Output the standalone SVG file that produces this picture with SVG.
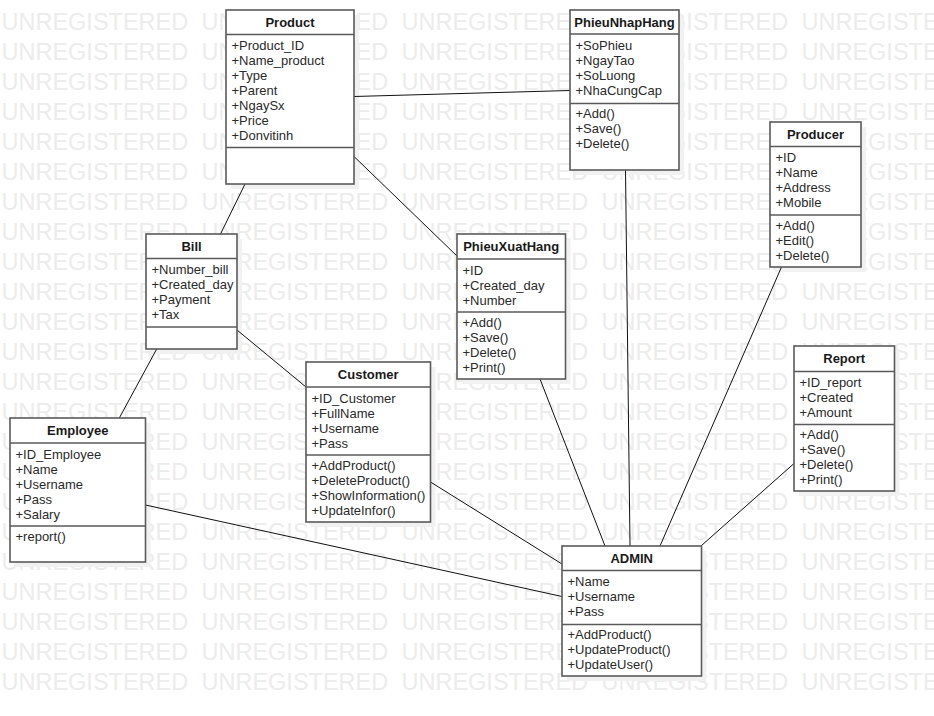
<svg xmlns="http://www.w3.org/2000/svg" xmlns:xlink="http://www.w3.org/1999/xlink" width="934" height="716" viewBox="0 0 934 716">
<style>
.wm{font-family:"Liberation Sans",Arial,sans-serif;font-size:23.5px;fill:#ececec}
.sh{fill:#f1f1f1}
.box{fill:#fff;stroke:#5a5a5a;stroke-width:1.6}
.div{stroke:#5a5a5a;stroke-width:1.6}
.hd{font-family:"Liberation Sans",Arial,sans-serif;font-size:13px;font-weight:bold;fill:#1a1a1a;text-anchor:middle}
.tx{font-family:"Liberation Sans",Arial,sans-serif;font-size:13px;fill:#2a2a2a}
.cn line{stroke:#111;stroke-width:1}
</style>
<defs>
<text id="wmrow" class="wm"><tspan x="1.5">UNREGISTERED</tspan><tspan x="201.5">UNREGISTERED</tspan><tspan x="401.5">UNREGISTERED</tspan><tspan x="601.5">UNREGISTERED</tspan><tspan x="801.5">UNREGISTERED</tspan></text>
</defs>
<rect width="934" height="716" fill="#fff"/>
<g id="watermark">
<use xlink:href="#wmrow" y="29.5"/><use xlink:href="#wmrow" y="59.5"/><use xlink:href="#wmrow" y="89.5"/><use xlink:href="#wmrow" y="119.5"/><use xlink:href="#wmrow" y="149.5"/><use xlink:href="#wmrow" y="179.5"/><use xlink:href="#wmrow" y="209.5"/><use xlink:href="#wmrow" y="239.5"/><use xlink:href="#wmrow" y="269.5"/><use xlink:href="#wmrow" y="299.5"/><use xlink:href="#wmrow" y="329.5"/><use xlink:href="#wmrow" y="359.5"/><use xlink:href="#wmrow" y="389.5"/><use xlink:href="#wmrow" y="419.5"/><use xlink:href="#wmrow" y="449.5"/><use xlink:href="#wmrow" y="479.5"/><use xlink:href="#wmrow" y="509.5"/><use xlink:href="#wmrow" y="539.5"/><use xlink:href="#wmrow" y="569.5"/><use xlink:href="#wmrow" y="599.5"/><use xlink:href="#wmrow" y="629.5"/><use xlink:href="#wmrow" y="659.5"/><use xlink:href="#wmrow" y="689.5"/>
</g>
<g id="shadows">
<rect class="sh" x="231" y="15" width="128" height="174"/>
<rect class="sh" x="575" y="15" width="109" height="160"/>
<rect class="sh" x="775" y="127" width="91" height="145"/>
<rect class="sh" x="151" y="239" width="91" height="115"/>
<rect class="sh" x="462" y="239" width="108.5" height="145"/>
<rect class="sh" x="311" y="367" width="124.5" height="160"/>
<rect class="sh" x="15" y="423" width="135.5" height="144"/>
<rect class="sh" x="799" y="351" width="100.5" height="145"/>
<rect class="sh" x="567" y="551" width="139.5" height="130"/>
</g>
<g id="connectors" class="cn">
<line x1="354" y1="96.5" x2="570" y2="90.5"/>
<line x1="354" y1="156.5" x2="457" y2="256"/>
<line x1="245" y1="184" x2="220.5" y2="234"/>
<line x1="156.7" y1="349" x2="119.3" y2="418"/>
<line x1="237" y1="330" x2="306" y2="387"/>
<line x1="430.5" y1="482" x2="562" y2="564"/>
<line x1="145.5" y1="505" x2="562" y2="596.5"/>
<line x1="540" y1="379" x2="605" y2="546"/>
<line x1="625.5" y1="170" x2="630" y2="546"/>
<line x1="781.5" y1="267" x2="660" y2="546"/>
<line x1="794" y1="463.5" x2="701.5" y2="545.5"/>
</g>
<g id="Product">
<rect class="box" x="226" y="10" width="128" height="174"/>
<line class="div" x1="226" y1="34.5" x2="354" y2="34.5"/>
<line class="div" x1="226" y1="147.5" x2="354" y2="147.5"/>
<text class="hd" x="290" y="27">Product</text>
<text class="tx" x="231.5" y="50">+Product_ID</text>
<text class="tx" x="231.5" y="65">+Name_product</text>
<text class="tx" x="231.5" y="80">+Type</text>
<text class="tx" x="231.5" y="95">+Parent</text>
<text class="tx" x="231.5" y="110">+NgaySx</text>
<text class="tx" x="231.5" y="125">+Price</text>
<text class="tx" x="231.5" y="140">+Donvitinh</text>
</g>
<g id="PhieuNhapHang">
<rect class="box" x="570" y="10" width="109" height="160"/>
<line class="div" x1="570" y1="34" x2="679" y2="34"/>
<line class="div" x1="570" y1="103.5" x2="679" y2="103.5"/>
<text class="hd" x="624.5" y="27">PhieuNhapHang</text>
<text class="tx" x="575.5" y="50">+SoPhieu</text>
<text class="tx" x="575.5" y="65">+NgayTao</text>
<text class="tx" x="575.5" y="80">+SoLuong</text>
<text class="tx" x="575.5" y="95">+NhaCungCap</text>
<text class="tx" x="575.5" y="118">+Add()</text>
<text class="tx" x="575.5" y="133">+Save()</text>
<text class="tx" x="575.5" y="148">+Delete()</text>
</g>
<g id="Producer">
<rect class="box" x="770" y="122" width="91" height="145"/>
<line class="div" x1="770" y1="146.5" x2="861" y2="146.5"/>
<line class="div" x1="770" y1="215" x2="861" y2="215"/>
<text class="hd" x="815.5" y="139">Producer</text>
<text class="tx" x="775.5" y="162">+ID</text>
<text class="tx" x="775.5" y="177">+Name</text>
<text class="tx" x="775.5" y="192">+Address</text>
<text class="tx" x="775.5" y="207">+Mobile</text>
<text class="tx" x="775.5" y="229.5">+Add()</text>
<text class="tx" x="775.5" y="244.5">+Edit()</text>
<text class="tx" x="775.5" y="259.5">+Delete()</text>
</g>
<g id="Bill">
<rect class="box" x="146" y="234" width="91" height="115"/>
<line class="div" x1="146" y1="258.5" x2="237" y2="258.5"/>
<line class="div" x1="146" y1="327" x2="237" y2="327"/>
<text class="hd" x="191.5" y="251">Bill</text>
<text class="tx" x="151.5" y="274">+Number_bill</text>
<text class="tx" x="151.5" y="289">+Created_day</text>
<text class="tx" x="151.5" y="304">+Payment</text>
<text class="tx" x="151.5" y="319">+Tax</text>
</g>
<g id="PhieuXuatHang">
<rect class="box" x="457" y="234" width="108.5" height="145"/>
<line class="div" x1="457" y1="259" x2="565.5" y2="259"/>
<line class="div" x1="457" y1="312" x2="565.5" y2="312"/>
<text class="hd" x="511.2" y="251">PhieuXuatHang</text>
<text class="tx" x="462.5" y="274.5">+ID</text>
<text class="tx" x="462.5" y="289.5">+Created_day</text>
<text class="tx" x="462.5" y="304.5">+Number</text>
<text class="tx" x="462.5" y="326.5">+Add()</text>
<text class="tx" x="462.5" y="341.5">+Save()</text>
<text class="tx" x="462.5" y="356.5">+Delete()</text>
<text class="tx" x="462.5" y="371.5">+Print()</text>
</g>
<g id="Customer">
<rect class="box" x="306" y="362" width="124.5" height="160"/>
<line class="div" x1="306" y1="387" x2="430.5" y2="387"/>
<line class="div" x1="306" y1="455" x2="430.5" y2="455"/>
<text class="hd" x="368.2" y="379">Customer</text>
<text class="tx" x="311.5" y="402.5">+ID_Customer</text>
<text class="tx" x="311.5" y="417.5">+FullName</text>
<text class="tx" x="311.5" y="432.5">+Username</text>
<text class="tx" x="311.5" y="447.5">+Pass</text>
<text class="tx" x="311.5" y="469.5">+AddProduct()</text>
<text class="tx" x="311.5" y="484.5">+DeleteProduct()</text>
<text class="tx" x="311.5" y="499.5">+ShowInformation()</text>
<text class="tx" x="311.5" y="514.5">+UpdateInfor()</text>
</g>
<g id="Employee">
<rect class="box" x="10" y="418" width="135.5" height="144"/>
<line class="div" x1="10" y1="443" x2="145.5" y2="443"/>
<line class="div" x1="10" y1="526" x2="145.5" y2="526"/>
<text class="hd" x="77.7" y="435">Employee</text>
<text class="tx" x="15.5" y="458.5">+ID_Employee</text>
<text class="tx" x="15.5" y="473.5">+Name</text>
<text class="tx" x="15.5" y="488.5">+Username</text>
<text class="tx" x="15.5" y="503.5">+Pass</text>
<text class="tx" x="15.5" y="518.5">+Salary</text>
<text class="tx" x="15.5" y="540.5">+report()</text>
</g>
<g id="Report">
<rect class="box" x="794" y="346" width="100.5" height="145"/>
<line class="div" x1="794" y1="371.5" x2="894.5" y2="371.5"/>
<line class="div" x1="794" y1="424.5" x2="894.5" y2="424.5"/>
<text class="hd" x="844.2" y="363">Report</text>
<text class="tx" x="799.5" y="387">+ID_report</text>
<text class="tx" x="799.5" y="402">+Created</text>
<text class="tx" x="799.5" y="417">+Amount</text>
<text class="tx" x="799.5" y="439">+Add()</text>
<text class="tx" x="799.5" y="454">+Save()</text>
<text class="tx" x="799.5" y="469">+Delete()</text>
<text class="tx" x="799.5" y="484">+Print()</text>
</g>
<g id="ADMIN">
<rect class="box" x="562" y="546" width="139.5" height="130"/>
<line class="div" x1="562" y1="570.5" x2="701.5" y2="570.5"/>
<line class="div" x1="562" y1="624.5" x2="701.5" y2="624.5"/>
<text class="hd" x="631.7" y="563">ADMIN</text>
<text class="tx" x="567.5" y="586">+Name</text>
<text class="tx" x="567.5" y="601">+Username</text>
<text class="tx" x="567.5" y="616">+Pass</text>
<text class="tx" x="567.5" y="639">+AddProduct()</text>
<text class="tx" x="567.5" y="654">+UpdateProduct()</text>
<text class="tx" x="567.5" y="669">+UpdateUser()</text>
</g>
</svg>
